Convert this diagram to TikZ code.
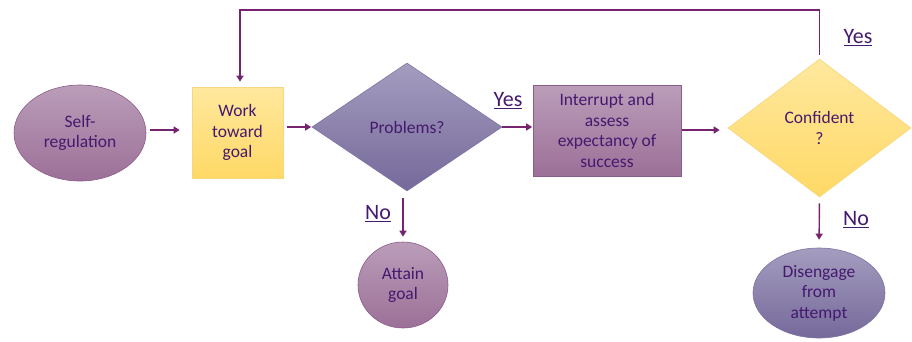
\documentclass[tikz,border=0pt]{standalone}
\usepackage{fontspec}
\setmainfont{Carlito}
\usetikzlibrary{shapes.geometric,arrows.meta}
\definecolor{txt}{HTML}{44196E}
\definecolor{arr}{HTML}{76246F}
\definecolor{pTop}{HTML}{BA9DB9}
\definecolor{pBot}{HTML}{9C7098}
\definecolor{pBd}{HTML}{8C5C8A}
\definecolor{gTop}{HTML}{A49DBF}
\definecolor{gBot}{HTML}{75699A}
\definecolor{gBd}{HTML}{7D73A3}
\definecolor{yTop}{HTML}{FFE89E}
\definecolor{yBot}{HTML}{FFD966}
\definecolor{yBd}{HTML}{F5D77E}
\tikzset{
  lbl/.style={text=txt,font=\fontsize{17.5}{20.5}\selectfont,align=center,inner sep=0pt},
  purp/.style={lbl,top color=pTop,bottom color=pBot,draw=pBd,line width=0.6pt},
  grey/.style={lbl,top color=gTop,bottom color=gBot,draw=gBd,line width=0.6pt},
  yell/.style={lbl,top color=yTop,bottom color=yBot,draw=yBd,line width=0.6pt},
  yn/.style={text=txt,font=\fontsize{22}{24}\selectfont,inner sep=0pt},
  conn/.style={draw=arr,line width=1.4pt,-{Triangle[length=6pt,width=7pt]}}
}
\begin{document}
\begin{tikzpicture}[x=1pt,y=-1pt]
\useasboundingbox (0,0) rectangle (912,341);
\node[purp,ellipse,minimum width=132,minimum height=96] (self) at (80,133) {Self-\\regulation};
\node[yell,rectangle,minimum width=91,minimum height=91] (work) at (237.5,132.5) {Work\\toward\\goal};
\node[grey,diamond,minimum width=190,minimum height=128] (prob) at (407,127) {Problems?};
\node[purp,rectangle,minimum width=148,minimum height=91] (intr) at (607,130.5) {Interrupt and\\assess\\expectancy of\\success};
\node[yell,diamond,minimum width=183,minimum height=138] (conf) at (819.5,128) {Confident\\?};
\node[purp,ellipse,minimum width=90,minimum height=86] (attain) at (403,285) {Attain\\goal};
\node[grey,ellipse,minimum width=132,minimum height=90] (dis) at (819,293) {Disengage\\from\\attempt};

\node[yn] (y1) at (508,101) {\underline{Yes}};
\node[yn] (y2) at (858,38) {\underline{Yes}};
\node[yn] (n1) at (378,214) {\underline{No}};
\node[yn] (n2) at (856,220) {\underline{No}};

\coordinate (top) at (819.5,10);
\draw[conn,shorten <=4pt,shorten >=12pt] (self.east |- 0,130) -- (work.west |- 0,130);
\draw[conn,shorten <=4pt,shorten >=0.5pt] (work.east |- prob.west) -- (prob.west);
\draw[conn,shorten >=0.5pt] (prob.east) -- (intr.west |- prob.east);
\draw[conn,shorten <=1pt,shorten >=8pt] (intr.east |- 0,130) -- (conf.west |- 0,130);
\draw[conn,shorten <=7pt,shorten >=5pt] (attain.north |- prob.south) -- (attain.north);
\draw[conn,shorten <=6pt,shorten >=8pt] (conf.south) -- (dis.north);
\draw[conn,shorten <=4pt,shorten >=5pt] (conf.north) -- (top) -| ([xshift=2.5pt]work.north);
\end{tikzpicture}
\end{document}
